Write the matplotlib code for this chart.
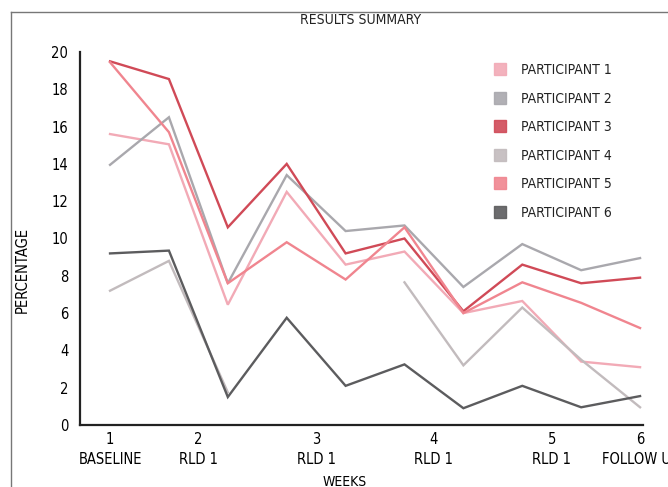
import numpy as np
import matplotlib; matplotlib.use("Agg")
import matplotlib.pyplot as plt
from matplotlib.lines import Line2D

plt.rcParams["font.family"] = ["DejaVu Sans"]
plt.rcParams["font.stretch"] = "condensed"
plt.rcParams["text.color"] = "#222222"

points = list(range(10))
week_ticks = [0, 1.5, 3.5, 5.5, 7.5, 9]
week_labels = ["1\nBASELINE", "2\nRLD 1", "3\nRLD 1", "4\nRLD 1", "5\nRLD 1", "6\nFOLLOW UP"]

participants = ["PARTICIPANT 1", "PARTICIPANT 2", "PARTICIPANT 3",
                "PARTICIPANT 4", "PARTICIPANT 5", "PARTICIPANT 6"]
p1 = [15.6, 15.05, 6.45, 12.5, 8.6, 9.3, 6.0, 6.65, 3.4, 3.1]
p2 = [13.95, 16.5, 7.6, 13.4, 10.4, 10.7, 7.4, 9.7, 8.3, 8.95]
p3 = [19.5, 18.55, 10.6, 14.0, 9.2, 10.0, 6.1, 8.6, 7.6, 7.9]
p4 = [7.2, 8.8, 1.75, np.nan, np.nan, 7.65, 3.2, 6.3, 3.5, 0.95]
p5 = [19.45, 15.7, 7.6, 9.8, 7.8, 10.6, 6.0, 7.65, 6.55, 5.2]
p6 = [9.2, 9.35, 1.5, 5.75, 2.1, 3.25, 0.9, 2.1, 0.95, 1.55]
series = [p1, p2, p3, p4, p5, p6]
colors = ["#f2aab6", "#a9a8ad", "#d04a57", "#c2bbbd", "#f0858f", "#5c5c5e"]

fig = plt.figure(figsize=(6.68, 4.87), dpi=100)
ax = fig.add_axes([80/668, 1-425/487, 563/668, 373/487])

for vals, c in zip(series, colors):
    ax.plot(points, vals, color=c, lw=1.7, solid_joinstyle="miter")

ax.set_xlim(-0.51, 9.05)
ax.set_ylim(0, 20)
ax.set_yticks(range(0, 21, 2))
ax.set_xticks(week_ticks)
ax.set_xticklabels(week_labels, fontsize=10.5, linespacing=1.45)
ax.tick_params(axis="both", length=0, labelsize=10.5)
ax.tick_params(axis="y", pad=8.5)
ax.tick_params(axis="x", pad=5)
for s in ["top", "right"]:
    ax.spines[s].set_visible(False)
for s in ["left", "bottom"]:
    ax.spines[s].set_linewidth(1.6)
    ax.spines[s].set_color("#222222")

ax.set_ylabel("PERCENTAGE", fontsize=10.5)
ax.yaxis.set_label_coords(-0.09, 0.415)
ax.set_xlabel("WEEKS", fontsize=10)
ax.xaxis.set_label_coords(0.47, -0.135)

fig.text(361/668, 1-20/487, "RESULTS SUMMARY", ha="center", va="center", fontsize=10)

handles = [Line2D([], [], ls="", marker="s", ms=9, color=c, alpha=0.9) for c in colors]
fig.legend(handles, participants, loc="upper left", bbox_to_anchor=(486/668, 1-56/487),
           frameon=False, fontsize=10, labelspacing=1.05, handlelength=1.0,
           handletextpad=1.0, borderpad=0)

# figure frame (cut off at right and bottom, as in the reference)
x0, y0 = 11/668, 1-12/487
fig.add_artist(Line2D([x0, x0], [y0, 0], transform=fig.transFigure, color="#777777", lw=1.0))
fig.add_artist(Line2D([x0, 1], [y0, y0], transform=fig.transFigure, color="#777777", lw=1.0))

fig.savefig("out.png", dpi=100)
